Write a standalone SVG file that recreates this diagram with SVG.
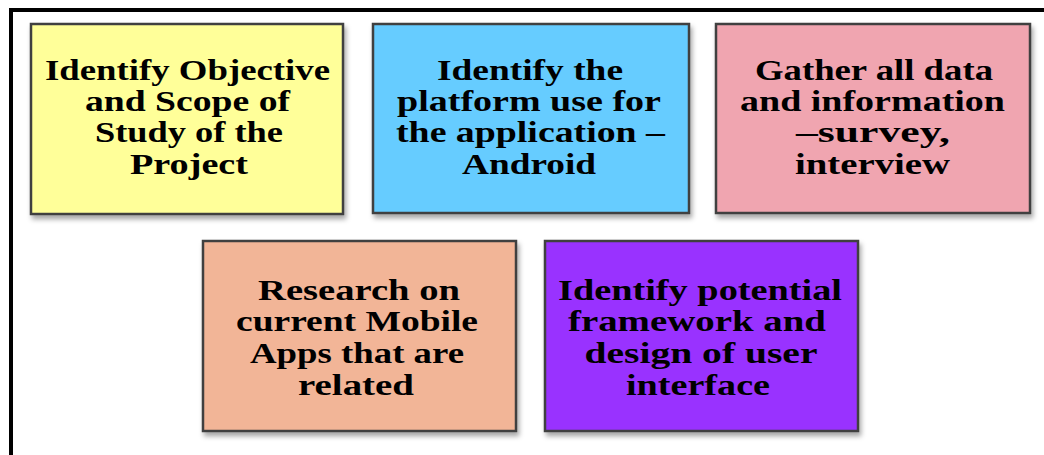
<svg xmlns="http://www.w3.org/2000/svg" width="1044" height="455" viewBox="0 0 1044 455">
<defs>
<filter id="sh" x="-5%" y="-5%" width="115%" height="115%">
<feDropShadow dx="2" dy="4" stdDeviation="2.5" flood-color="#000" flood-opacity="0.35"/>
</filter>
<style>
.box{stroke:#404040;stroke-width:2.5;filter:url(#sh)}
.t{font-family:"Liberation Serif","Times New Roman",serif;font-weight:bold;font-size:30px;fill:#000;text-anchor:middle}
</style>
</defs>
<rect x="0" y="0" width="1044" height="455" fill="#fff"/>
<path d="M11 455 V10 H1044" fill="none" stroke="#000" stroke-width="4"/>
<g id="connectors"></g>
<g id="n1">
<rect class="box" x="31" y="24" width="312" height="190" fill="#FFFF99"/>
<text class="t" x="187.5" y="80" textLength="285" lengthAdjust="spacingAndGlyphs">Identify Objective</text>
<text class="t" x="187.5" y="111" textLength="205" lengthAdjust="spacingAndGlyphs">and Scope of</text>
<text class="t" x="189" y="142" textLength="188" lengthAdjust="spacingAndGlyphs">Study of the</text>
<text class="t" x="189" y="174" textLength="118" lengthAdjust="spacingAndGlyphs">Project</text>
</g>
<g id="n2">
<rect class="box" x="373" y="24" width="316" height="189" fill="#66CCFF"/>
<text class="t" x="530" y="80" textLength="186" lengthAdjust="spacingAndGlyphs">Identify the</text>
<text class="t" x="529" y="111" textLength="264" lengthAdjust="spacingAndGlyphs">platform use for</text>
<text class="t" x="530.5" y="142" textLength="269" lengthAdjust="spacingAndGlyphs">the application –</text>
<text class="t" x="529" y="174" textLength="134" lengthAdjust="spacingAndGlyphs">Android</text>
</g>
<g id="n3">
<rect class="box" x="716" y="24" width="314" height="189" fill="#F0A5B0"/>
<text class="t" x="874" y="80" textLength="238" lengthAdjust="spacingAndGlyphs">Gather all data</text>
<text class="t" x="872.5" y="111" textLength="265" lengthAdjust="spacingAndGlyphs">and information</text>
<text class="t" x="873" y="142" textLength="154" lengthAdjust="spacingAndGlyphs">–survey,</text>
<text class="t" x="872.5" y="174" textLength="155" lengthAdjust="spacingAndGlyphs">interview</text>
</g>
<g id="n4">
<rect class="box" x="203" y="241" width="313" height="190" fill="#F2B597"/>
<text class="t" x="359" y="300" textLength="202" lengthAdjust="spacingAndGlyphs">Research on</text>
<text class="t" x="357" y="331" textLength="242" lengthAdjust="spacingAndGlyphs">current Mobile</text>
<text class="t" x="357" y="363" textLength="214" lengthAdjust="spacingAndGlyphs">Apps that are</text>
<text class="t" x="356" y="395" textLength="116" lengthAdjust="spacingAndGlyphs">related</text>
</g>
<g id="n5">
<rect class="box" x="545" y="241" width="313" height="190" fill="#9933FF"/>
<text class="t" x="700" y="300" textLength="284" lengthAdjust="spacingAndGlyphs">Identify potential</text>
<text class="t" x="697" y="331" textLength="258" lengthAdjust="spacingAndGlyphs">framework and</text>
<text class="t" x="701" y="363" textLength="233" lengthAdjust="spacingAndGlyphs">design of user</text>
<text class="t" x="698" y="395" textLength="144" lengthAdjust="spacingAndGlyphs">interface</text>
</g>
</svg>
